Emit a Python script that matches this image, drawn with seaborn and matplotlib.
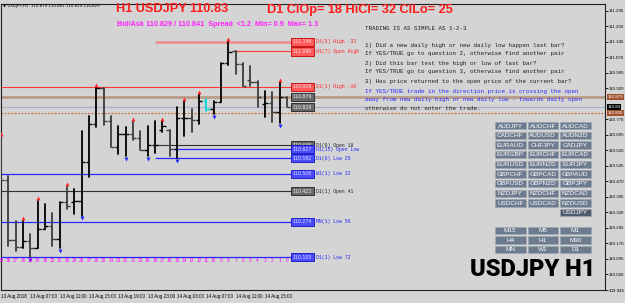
import numpy as np
import pandas as pd
import matplotlib
matplotlib.use("Agg")
import matplotlib.pyplot as plt
import matplotlib.transforms as mtransforms
from matplotlib.patches import Rectangle
import seaborn as sns

sns.set_style("white")
plt.rcParams['font.family'] = ['Liberation Sans', 'DejaVu Sans']

# ---------------- data ----------------
bar_index = list(range(39, -1, -1))
opens = [110.600, 110.478, 110.185, 110.151, 110.180, 110.146, 110.242, 110.257, 110.194, 110.372,
         110.372, 110.377, 110.564, 110.747, 110.920, 110.761, 110.636, 110.699, 110.699, 110.680,
         110.622, 110.646, 110.720, 110.718, 110.627, 110.776, 110.776, 110.766, 110.858, 110.819,
         110.853, 111.045, 111.099, 111.040, 110.960, 110.950, 110.843, 110.850, 110.805, 110.879]
highs = [110.690, 110.497, 110.281, 110.281, 110.218, 110.377, 110.362, 110.319, 110.372, 110.444,
         110.434, 110.713, 110.785, 110.925, 110.920, 110.785, 110.737, 110.733, 110.761, 110.713,
         110.737, 110.761, 110.761, 110.718, 110.829, 110.858, 110.819, 110.891, 110.867, 110.858,
         111.045, 111.146, 111.099, 111.045, 111.030, 110.954, 110.906, 110.901, 110.949, 110.879]
lows = [110.478, 110.160, 110.136, 110.146, 110.103, 110.146, 110.242, 110.156, 110.146, 110.338,
        110.314, 110.305, 110.492, 110.733, 110.742, 110.636, 110.603, 110.593, 110.670, 110.622,
        110.593, 110.607, 110.709, 110.593, 110.583, 110.689, 110.709, 110.747, 110.809, 110.795,
        110.853, 111.035, 110.990, 110.930, 110.930, 110.829, 110.781, 110.760, 110.752, 110.829]
closes = [110.478, 110.185, 110.151, 110.180, 110.150, 110.242, 110.257, 110.194, 110.372, 110.353,
          110.377, 110.564, 110.747, 110.920, 110.761, 110.636, 110.699, 110.699, 110.680, 110.622,
          110.646, 110.646, 110.740, 110.627, 110.776, 110.776, 110.766, 110.858, 110.819, 110.853,
          111.045, 111.098, 111.040, 110.930, 110.950, 110.877, 110.850, 110.805, 110.877, 110.829]
up_fractals = [39, 36, 34, 30, 26, 21, 17, 14, 12, 8, 1]
down_fractals = [35, 31, 28, 22, 19, 15, 10, 1]
cyan_bars = [11]

level_prices = [111.146, 111.099, 110.928, 110.646, 110.627, 110.582, 110.508, 110.423, 110.274, 110.103]
level_texts = ["D1(0) High -32", "H1(7) Open High", "D1(1) High -10", "D1(0) Open 18",
               "H1(15) Open Low", "D1(0) Low 25", "W1(1) Low 32", "D1(1) Open 41",
               "MN(1) Low 56", "D1(1) Low 72"]
level_kinds = ["redthick", "red", "red", "dark", "blue", "blue", "blue", "dark", "blue", "blue"]
level_start_bar = [18, 7, 40, 18, 15.5, 18, 40, 40, 40, 40]

open_price = 110.879
bid_price = 110.829
dotted_price = 110.800

y_ticks = [111.295, 111.220, 111.145, 111.070, 110.995, 110.920, 110.770, 110.695, 110.620,
           110.545, 110.470, 110.395, 110.320, 110.245, 110.170, 110.095, 110.020, 109.945]
date_bars = [39, 35, 31, 27, 23, 19, 15, 11, 7, 3]
date_labels = ["13 Aug 2018", "13 Aug 07:00", "13 Aug 11:00", "13 Aug 15:00", "13 Aug 19:00",
               "13 Aug 23:00", "14 Aug 03:00", "14 Aug 07:00", "14 Aug 11:00", "14 Aug 15:00"]

pairs = [["AUDJPY", "AUDCHF", "AUDCAD"], ["CADCHF", "AUDUSD", "AUDNZD"],
         ["EURAUD", "CHFJPY", "CADJPY"], ["EURGBP", "EURCHF", "EURCAD"],
         ["EURUSD", "EURNZD", "EURJPY"], ["GBPCHF", "GBPCAD", "GBPAUD"],
         ["GBPUSD", "GBPNZD", "GBPJPY"], ["NZDJPY", "NZDCHF", "NZDCAD"],
         ["USDCHF", "USDCAD", "NZDUSD"], ["", "", "USDJPY"]]
timeframes = [["M15", "M5", "M1"], ["H4", "H1", "M30"], ["MN", "W1", "D1"]]

rules = ["TRADING IS AS SIMPLE AS 1-2-3",
         "1) Did a new daily high or new daily low happen last bar?",
         "If YES/TRUE go to question 2, otherwise find another pair",
         "2) Did this bar test the high or low of last bar?",
         "If YES/TRUE go to question 3, otherwise find another pair",
         "3) Has price returned to the open price of the current bar?",
         "If YES/TRUE trade in the direction price is crossing the open",
         "away from new daily high or new daily low - towards daily open",
         "otherwise do not enter the trade."]
rule_colors = ["#202020"] * 6 + ["#2a2aff", "#2a2aff", "#202020"]
rule_y = [28, 45, 54, 63, 72, 82, 91, 100, 109]

# ---------------- figure ----------------
BG = "#d4d4d4"
W, H = 625, 303
fig = plt.figure(figsize=(W / 100, H / 100), dpi=100, facecolor=BG)
ax = fig.add_axes([0.5 / W, 13 / H, 604.5 / W, 286 / H])
ax.set_facecolor(BG)
ax.set_xlim(-39.06, 43.36)
ax.set_ylim(109.9537, 111.3287)

df = pd.DataFrame({"idx": bar_index, "O": opens, "H": highs, "L": lows, "C": closes})
df["pos"] = -df["idx"]
df["dir"] = np.where(df["idx"].isin(cyan_bars), "cyan",
                     np.where(df["C"] < df["O"], "down", "up"))
pal = {"up": "#000000", "down": "#3c3c3c", "cyan": "#00d8e0"}
long = pd.concat([df.assign(price=df["H"]), df.assign(price=df["L"])]).sort_values(["idx", "price"])
sns.lineplot(data=long, x="pos", y="price", units="idx", estimator=None, hue="dir",
             palette=pal, legend=False, sort=False, lw=1.3, ax=ax, zorder=4)
for _, r in df.iterrows():
    c = pal[r["dir"]]
    ax.hlines(r["O"], r["pos"] - 0.45, r["pos"], color=c, lw=1.0, zorder=4)
    ax.hlines(r["C"], r["pos"], r["pos"] + 0.45, color=c, lw=1.0, zorder=4)

# fractal arrows
fu = df[df["idx"].isin(up_fractals)].assign(y=lambda d: d["H"] + 0.012)
fd = df[df["idx"].isin(down_fractals)].assign(y=lambda d: d["L"] - 0.012)
sns.scatterplot(data=fu, x="pos", y="y", marker="^", color="#ff2020", s=8, linewidth=0, ax=ax, zorder=5)
sns.scatterplot(data=fd, x="pos", y="y", marker="v", color="#1e1eff", s=8, linewidth=0, ax=ax, zorder=5)

# full-width lines
ax.axhline(open_price, color="#b89c88", lw=2.0, zorder=2)
ax.axhline(bid_price, color="#a4b0c4", lw=0.8, zorder=2)
ax.axhline(dotted_price, color="#c8641e", lw=0.8, ls=(0, (1.5, 1.5)), zorder=2)

kind_line = {"redthick": ("#f08a8a", 1.8), "red": ("#ff3838", 0.8),
             "dark": ("#303030", 0.8), "blue": ("#2626ff", 0.9)}
kind_box = {"redthick": ("#ff5a5a", "#c00000", "#ffe8e8"), "red": ("#ff5a5a", "#c00000", "#ffe8e8"),
            "dark": ("#6a6a6a", "#202020", "#f0f0f0"), "blue": ("#4a4aff", "#1010c0", "#e8e8ff")}
kind_text = {"redthick": "#ff2020", "red": "#ff2020", "dark": "#202020", "blue": "#2020ff"}
xl = ax.get_xlim()[0]
for p, t, k, sb in zip(level_prices, level_texts, level_kinds, level_start_bar):
    col, lw = kind_line[k]
    x0 = xl if sb >= 40 else -sb
    ax.hlines(p, x0, 0.55, color=col, lw=lw, zorder=3)
    fc, ec, tc = kind_box[k]
    ax.text(0.8, p, f"{p:.3f}", fontsize=3.3, color=tc, va="center", ha="left", zorder=6,
            family="DejaVu Sans",
            bbox=dict(boxstyle="square,pad=0.35", fc=fc, ec=ec, lw=0.6))
    ax.text(3.95, p, t, fontsize=3.4, color=kind_text[k], va="center", ha="left", zorder=6,
            family="Liberation Mono")
for p in [open_price, bid_price]:
    ax.text(0.8, p, f"{p:.3f}", fontsize=3.3, color="#f0f0f0", va="center", ha="left", zorder=6,
            family="DejaVu Sans",
            bbox=dict(boxstyle="square,pad=0.35", fc="#6a6a6a", ec="#202020", lw=0.6))

# bar numbers
for i in bar_index:
    ax.text(-i, 110.088, str(i), fontsize=3.4, color="#ff00ff", ha="center", va="center", zorder=6)

# axes styling
ax.yaxis.tick_right()
ax.set_yticks(y_ticks)
ax.set_yticklabels([f"{v:.3f}" for v in y_ticks], fontsize=3.2, family="Liberation Sans")
ax.set_xticks([-b for b in date_bars])
ax.set_xticklabels(date_labels, fontsize=3.3, ha="left", family="Liberation Sans")
ax.tick_params(axis="both", length=2, width=0.6, pad=0.8, colors="#000000", direction="out")
ax.set_xlabel("")
ax.set_ylabel("")
for s in ax.spines.values():
    s.set_color("#202020")
    s.set_linewidth(0.8)

blend = mtransforms.blended_transform_factory(ax.transAxes, ax.transData)
for p, fc, txt in [(open_price, "#a0522d", "110.879"), (bid_price, "#000000", "110.83"),
                   (dotted_price, "#a0522d", "110.800")]:
    ax.text(1.004, p, txt, transform=blend, fontsize=3.2, color="white", va="center", ha="left",
            family="Liberation Sans", zorder=7, clip_on=False,
            bbox=dict(boxstyle="square,pad=0.2", fc=fc, ec="none"))

# ---------------- overlay (pixel coords) ----------------
ov = fig.add_axes([0, 0, 1, 1], zorder=10)
ov.set_xlim(0, W)
ov.set_ylim(H, 0)
ov.axis("off")
ov.patch.set_alpha(0)

ov.text(3, 5.5, "\u25bc USDJPY,H1  110.879 110.881 110.829 110.829", fontsize=2.9, color="#000000",
        va="center", ha="left", family="DejaVu Sans")
ov.text(116, 9.5, "H1 USDJPY 110.83", fontsize=9.2, color="#ff1a1a", weight="bold", va="center", ha="left")
ov.text(267, 9.5, "D1 ClOp= 18 HiCl= 32 ClLo= 25", fontsize=9.2, color="#ff1a1a", weight="bold",
        va="center", ha="left")
ov.text(117, 24, "Bid/Ask 110.829 / 110.841  Spread  <1.2  Min= 0.9  Max= 1.3", fontsize=5.2,
        color="#ff22ff", weight="bold", va="center", ha="left")

for s, c, y in zip(rules, rule_colors, rule_y):
    ov.text(365, y, s, fontsize=4.25, color=c, va="center", ha="left", family="Liberation Mono")

col_x = [495, 527.5, 560]
bw, bh = 30.5, 7.4
row_y = [122 + 9.65 * i for i in range(10)]
for r, row in enumerate(pairs):
    for c, name in enumerate(row):
        if not name:
            continue
        fc = "#4e5c6e" if name == "USDJPY" else "#6c7b8d"
        ov.add_patch(Rectangle((col_x[c], row_y[r]), bw, bh, fc=fc, ec="#9aa6b4", lw=0.5))
        ov.text(col_x[c] + bw / 2, row_y[r] + bh / 2 + 0.3, name, fontsize=4.6, color="white",
                ha="center", va="center")
tf_y = [226.7, 236.3, 245.9]
for r, row in enumerate(timeframes):
    for c, name in enumerate(row):
        ov.add_patch(Rectangle((col_x[c], tf_y[r]), bw, bh, fc="#6c7b8d", ec="#9aa6b4", lw=0.5))
        ov.text(col_x[c] + bw / 2, tf_y[r] + bh / 2 + 0.3, name, fontsize=4.6, color="white",
                ha="center", va="center")

ov.text(533, 269, "USDJPY H1", fontsize=17, color="#000000", weight="black",
        family=["Roboto", "DejaVu Sans"], ha="center", va="center")

fig.savefig("out.png", dpi=100, facecolor=BG)
